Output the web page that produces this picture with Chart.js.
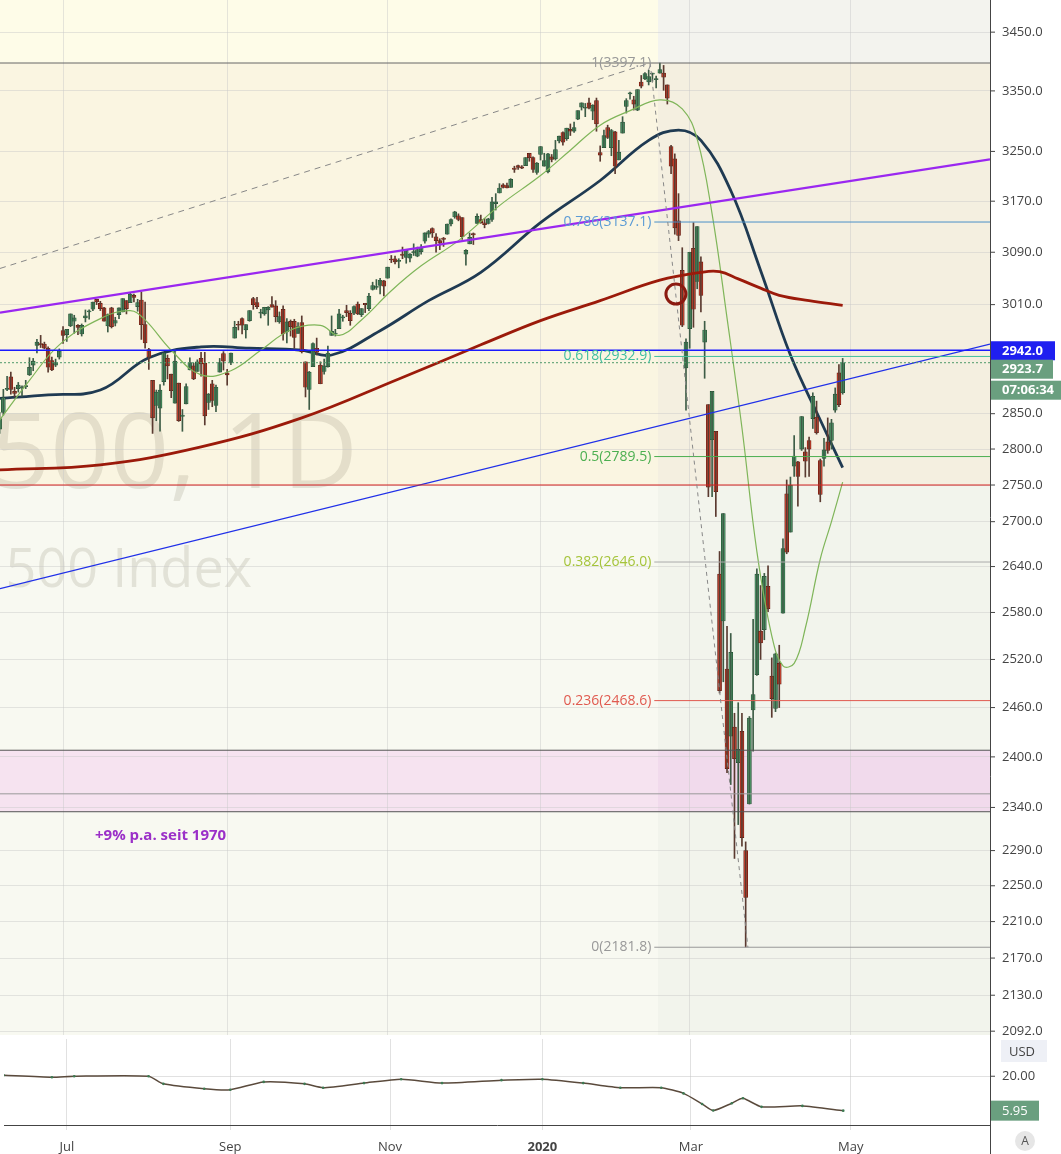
<!DOCTYPE html>
<html>
<head>
<meta charset="utf-8">
<script src="https://cdn.jsdelivr.net/npm/chart.js@4.4.1/dist/chart.umd.min.js"></script>
<style>
  html, body { margin: 0; padding: 0; background: #fff; }
  #wrap { position: relative; width: 1061px; height: 1154px; overflow: hidden; font-family: 'Open Sans', sans-serif; }
  #main { position: absolute; left: 0; top: 0; }
  #sub { position: absolute; left: 0; top: 1035px; }
</style>
</head>
<body>
<div id="wrap">
  <canvas id="main" width="1061" height="1035"></canvas>
  <canvas id="sub" width="1061" height="119"></canvas>
</div>
<script>
// daily bars, index 0 = 1 Jul 2019, first bar = 6 Jun 2019  [open, high, low, close]
const firstIndex = -17;
const bars = [
[2828,2852,2822,2843],[2852,2885,2848,2873],[2885,2904,2883,2886],[2903,2910,2878,2885],[2882,2888,2874,2879],
[2886,2895,2881,2891],[2887,2890,2875,2887],[2889,2898,2886,2889],[2906,2931,2905,2917],[2920,2930,2912,2926],
[2949,2958,2938,2954],[2952,2964,2946,2950],[2951,2954,2944,2945],[2945,2947,2910,2917],[2927,2932,2912,2913],
[2920,2929,2918,2924],[2932,2944,2929,2941],
// Jul
[2971,2977,2952,2964],[2965,2973,2955,2973],[2978,2996,2977,2996],[2985,2994,2967,2990],[2979,2980,2965,2976],
[2966,2981,2963,2979],[2990,3002,2984,2993],[2999,3002,2988,3000],[3003,3014,3001,3014],[3018,3018,3010,3014],
[3012,3015,3001,3004],[3005,3006,2985,2985],[2978,2996,2969,2995],[3005,3006,2975,2977],[2982,2991,2978,2986],
[2995,3005,2989,3005],[2999,3019,2999,3019],[3016,3016,2996,3004],[3013,3028,3013,3026],[3024,3026,3014,3021],
[3007,3018,3000,3013],[3017,3029,2958,2980],
// Aug
[2980,3014,2945,2953],[2943,2945,2914,2932],[2898,2898,2822,2844],[2862,2884,2840,2881],[2858,2892,2825,2884],
[2896,2938,2891,2938],[2930,2935,2900,2919],[2907,2907,2873,2883],[2865,2943,2865,2926],[2894,2894,2839,2840],
[2846,2856,2825,2848],[2864,2893,2864,2889],[2913,2931,2913,2924],[2919,2923,2899,2900],[2911,2928,2911,2925],
[2930,2939,2904,2922],[2923,2939,2834,2847],[2866,2879,2856,2878],[2893,2898,2860,2869],[2862,2891,2853,2888],
[2910,2930,2910,2924],[2937,2940,2913,2926],
// Sep
[2909,2914,2891,2906],[2924,2938,2921,2938],[2960,2985,2960,2976],[2980,2985,2972,2979],[2989,2990,2966,2979],
[2972,2980,2960,2980],[2986,3001,2985,3001],[3019,3021,3003,3010],[3013,3021,3004,3007],[2997,3003,2990,2998],
[2996,3006,2994,3006],[3002,3007,2979,3006],[3010,3022,3006,3006],[3008,3016,2984,2992],[2984,2999,2982,2992],
[3003,3008,2957,2966],[2969,2989,2953,2984],[2985,2987,2963,2977],[2985,2988,2945,2961],[2967,2983,2967,2977],
// Oct
[2983,2993,2938,2940],[2925,2925,2874,2888],[2885,2911,2856,2910],[2918,2953,2918,2952],[2945,2960,2935,2939],
[2920,2925,2893,2893],[2911,2929,2907,2919],[2918,2948,2917,2938],[2964,2993,2964,2970],[2966,2973,2963,2966],
[2974,3003,2974,2996],[2990,2994,2985,2990],[3001,3009,2992,2998],[2997,3001,2979,2986],[2997,3008,2995,3007],
[3011,3014,2995,2996],[2995,3004,2992,3004],[3012,3012,2998,3010],[3004,3027,3001,3023],[3033,3044,3032,3039],
[3036,3048,3033,3037],[3039,3050,3026,3047],[3046,3047,3023,3038],
// Nov
[3050,3067,3050,3067],[3079,3085,3074,3078],[3080,3084,3072,3075],[3076,3080,3066,3077],[3087,3098,3080,3085],
[3082,3094,3073,3093],[3081,3088,3075,3087],[3089,3103,3085,3091],[3084,3098,3083,3094],[3091,3102,3087,3097],
[3107,3120,3104,3120],[3118,3124,3113,3122],[3127,3128,3113,3120],[3114,3119,3090,3108],[3108,3111,3094,3104],
[3112,3113,3099,3110],[3118,3134,3118,3134],[3134,3142,3131,3141],[3145,3154,3143,3153],[3147,3150,3139,3141],
// Dec
[3144,3144,3110,3114],[3087,3094,3070,3093],[3103,3120,3103,3113],[3119,3120,3102,3117],[3135,3150,3135,3146],
[3141,3148,3135,3136],[3136,3143,3128,3133],[3135,3143,3134,3142],[3141,3176,3138,3169],[3166,3182,3156,3169],
[3183,3198,3183,3191],[3196,3198,3191,3192],[3195,3199,3191,3191],[3192,3206,3192,3205],[3223,3226,3216,3221],
[3227,3228,3221,3224],[3225,3227,3222,3223],[3227,3240,3227,3240],[3247,3247,3234,3240],[3240,3241,3216,3221],
[3216,3232,3213,3231],
// Jan 2020
[3245,3258,3236,3258],[3226,3247,3226,3235],[3217,3247,3215,3246],[3241,3245,3233,3237],[3238,3268,3236,3253],
[3267,3275,3264,3275],[3281,3282,3260,3265],[3271,3288,3268,3288],[3286,3295,3276,3283],[3283,3298,3281,3289],
[3303,3317,3302,3317],[3323,3330,3318,3330],[3321,3329,3307,3321],[3330,3338,3320,3321],[3316,3327,3302,3326],
[3334,3338,3283,3295],[3248,3259,3234,3244],[3256,3285,3256,3276],[3289,3293,3271,3273],[3256,3286,3243,3284],
[3282,3283,3214,3226],
// Feb
[3236,3268,3236,3249],[3280,3307,3280,3298],[3324,3337,3313,3334],[3345,3348,3336,3345],[3335,3341,3318,3328],
[3318,3352,3317,3352],[3365,3376,3355,3358],[3370,3381,3369,3379],[3365,3385,3360,3374],[3378,3380,3366,3380],
[3369,3375,3355,3370],[3380,3397,3380,3386],[3380,3393,3351,3373],[3360,3360,3328,3338],[3258,3260,3214,3226],
[3238,3246,3118,3128],[3139,3182,3108,3116],[3062,3097,2977,2979],[2916,2959,2855,2954],
// Mar
[2974,3090,2945,3090],[3096,3136,2976,3003],[3045,3130,3034,3130],[3075,3083,2999,3024],[2954,2985,2901,2972],
[2863,2863,2734,2747],[2813,2882,2734,2882],[2825,2825,2707,2741],[2630,2660,2478,2481],[2569,2711,2492,2711],
[2508,2562,2381,2386],[2425,2553,2367,2529],[2436,2453,2281,2398],[2393,2466,2320,2409],[2431,2453,2295,2305],
[2290,2300,2182,2237],[2344,2449,2344,2447],[2457,2571,2407,2476],[2501,2637,2500,2630],[2556,2615,2520,2541],
[2558,2631,2545,2627],[2614,2641,2581,2585],
// Apr
[2499,2522,2448,2471],[2459,2528,2455,2527],[2515,2538,2460,2489],[2579,2677,2579,2664],[2738,2757,2657,2659],
[2686,2761,2686,2750],[2776,2819,2762,2790],[2782,2783,2721,2762],[2800,2846,2798,2846],[2796,2802,2761,2783],
[2812,2817,2762,2800],[2843,2880,2829,2875],[2845,2868,2821,2823],[2784,2786,2727,2737],[2787,2815,2776,2799],
[2810,2844,2794,2798],[2812,2842,2800,2837],[2855,2887,2852,2878],[2909,2921,2860,2863],[2880,2930,2878,2923.7]
];

// moving averages [bar index, value]
const ma20 = [[-17,2841],[-9,2898],[-1,2950],[10,2989],[18,3001],[22,2987],[29,2942],[37,2906],[45,2912],[53,2942],
  [61,2972],[69,2979],[74,2964],[80,2987],[88,3031],[96,3069],[106,3108],[117,3163],[128,3211],[136,3252],[144,3293],
  [152,3317],[160,3335],[166,3320],[170,3270],[174,3150],[178,2990],[182,2830],[186,2660],[190,2550],[193,2512],
  [196,2515],[199,2560],[203,2650],[206,2700],[209,2754]];
const ma50 = [[-17,2872],[-4,2877],[10,2884],[23,2931],[37,2947],[50,2945],[64,2942],[72,2935],[85,2971],[98,3016],
  [112,3059],[128,3136],[144,3203],[157,3268],[165,3285],[171,3268],[179,3187],[187,3062],[195,2935],[203,2841],[209,2774]];
const ma200 = [[-17,2771],[10,2778],[37,2803],[64,2844],[90,2900],[112,2950],[128,2986],[144,3016],[160,3047],
  [171,3059],[176,3060],[181,3049],[187,3035],[192,3024],[200,3016],[209,3009]];

// drawings
const channelTop = [[-16.9,2998],[248.5,3237]];
const channelLow = [[-16.9,2611],[248.5,2951]];
const dashedUp = [[-16.9,3065],[157.4,3397.1]];
const fibDiag = [[157.4,3397.1],[183.6,2181.8]];
const fibStart = 158.5;
const fibLevels = [
  { label: '1(3397.1)', value: 3397.1, color: '#999999', line: '#666666', full: true },
  { label: '0.786(3137.1)', value: 3137.1, color: '#5b9bd5', line: '#4a90c8' },
  { label: '0.618(2932.9)', value: 2932.9, color: '#3fbf9f', line: '#3fbf9f' },
  { label: '0.5(2789.5)', value: 2789.5, color: '#4caf50', line: '#4caf50' },
  { label: '0.382(2646.0)', value: 2646.0, color: '#a5c43a', line: '#aaaaaa' },
  { label: '0.236(2468.6)', value: 2468.6, color: '#e05a4f', line: '#e05a4f' },
  { label: '0(2181.8)', value: 2181.8, color: '#999999', line: '#999999' }
];
const supportLine = 2942.0;
const redLine = 2750;
const lastPrice = 2923.7;
const zoneTop = 2408, zoneMid = 2356, zoneBottom = 2335;

const priceTicks = [2092,2130,2170,2210,2250,2290,2340,2400,2460,2520,2580,2640,2700,2750,2800,2850,3010,3090,3170,3250,3350,3450];
const monthTicks = [0,44,87,128,168,211];
const monthLabels = ['Jul','Sep','Nov','2020','Mar','May'];

// lower panel
const subSeries = [[-17,20.4],[-4,19.6],[2,20.0],[22,20.0],[26,16.9],[37,14.9],[44,14.5],[53,17.7],[64,16.9],
  [69,15.3],[80,17.2],[90,18.8],[101,17.2],[117,18.4],[128,18.8],[139,17.2],[149,15.3],[160,15.3],[166,13.0],
  [171,8.7],[174,6.0],[179,9.0],[182,11.0],[187,7.5],[198,7.9],[209,5.95]];

const X_MIN = -16.9, X_MAX = 248.5;
const up = b => b[3] >= b[0];

const wickData = bars.map((b, i) => ({ x: firstIndex + i, y: [b[2], b[1]] }));
const bodyData = bars.map((b, i) => ({ x: firstIndex + i, y: [b[0], b[3]] }));
const pts = arr => arr.map(p => ({ x: p[0], y: p[1] }));
const hline = (v, x0) => [[x0, v], [X_MAX, v]];

const lineDs = (data, color, width, extra = {}) => Object.assign({
  type: 'line', data: pts(data), borderColor: color, borderWidth: width, pointRadius: 0, tension: 0, fill: false
}, extra);

const bgPlugin = {
  id: 'bg',
  beforeDraw(chart) {
    const { ctx, chartArea: a, scales: { x, y } } = chart;
    const xs = x.getPixelForValue(159.5);
    const y1 = y.getPixelForValue(3397.1), y2 = y.getPixelForValue(redLine);
    ctx.save();
    const rect = (l, t, r, b, c) => { ctx.fillStyle = c; ctx.fillRect(l, t, r - l, b - t); };
    rect(a.left, a.top, xs, y1, '#fefce8');
    rect(a.left, y1, xs, y2, '#faf5e1');
    rect(a.left, y2, xs, a.bottom, '#f8f9f1');
    rect(xs, a.top, a.right, y1, '#f3f3ee');
    rect(xs, y1, a.right, y2, '#f4efe0');
    rect(xs, y2, a.right, a.bottom, '#f2f4ec');
    const zt = y.getPixelForValue(zoneTop), zb = y.getPixelForValue(zoneBottom);
    rect(a.left, zt, xs, zb, '#f6e3f0');
    rect(xs, zt, a.right, zb, '#f1daec');
    // watermark
    ctx.fillStyle = 'rgba(120,112,90,0.17)';
    ctx.textAlign = 'right';
    ctx.textBaseline = 'alphabetic';
    ctx.font = '104px "Open Sans", sans-serif';
    ctx.fillText('SPX500, 1D', 358, 488);
    ctx.font = '54px "Open Sans", sans-serif';
    ctx.fillText('S&P 500 Index', 252, 587);
    ctx.restore();
  },
  afterDraw(chart) {
    const { ctx, chartArea: a, scales: { x, y } } = chart;
    ctx.save();
    // fib labels
    ctx.font = '14px "Open Sans", sans-serif';
    ctx.textAlign = 'right';
    ctx.textBaseline = 'middle';
    const lx = x.getPixelForValue(fibStart) - 3;
    fibLevels.forEach(f => { ctx.fillStyle = f.color; ctx.fillText(f.label, lx, y.getPixelForValue(f.value)); });
    // circle
    ctx.strokeStyle = '#8b1a10'; ctx.lineWidth = 3;
    ctx.beginPath(); ctx.arc(x.getPixelForValue(164.3), y.getPixelForValue(3026), 10, 0, Math.PI * 2); ctx.stroke();
    // note
    ctx.fillStyle = '#9b30c8'; ctx.textAlign = 'left';
    ctx.font = 'bold 15px "Open Sans", sans-serif';
    ctx.fillText('+9% p.a. seit 1970', 95, 836);
    // axis
    ctx.fillStyle = '#ffffff'; ctx.fillRect(a.right + 1, 0, chart.width - a.right, chart.height);
    ctx.strokeStyle = '#444'; ctx.lineWidth = 1;
    ctx.beginPath(); ctx.moveTo(a.right + 0.5, 0); ctx.lineTo(a.right + 0.5, chart.height); ctx.stroke();
    ctx.beginPath(); ctx.moveTo(0, a.bottom + 1); ctx.lineTo(chart.width, a.bottom + 1); ctx.stroke();
    ctx.font = '13px "Open Sans", sans-serif'; ctx.textAlign = 'left'; ctx.fillStyle = '#444';
    priceTicks.forEach(v => {
      const py = y.getPixelForValue(v);
      ctx.beginPath(); ctx.moveTo(a.right, py); ctx.lineTo(a.right + 5, py); ctx.stroke();
      ctx.fillText(v.toFixed(1), a.right + 12, py);
    });
    const badge = (txt, v, bg, w, dy = 0) => {
      const py = y.getPixelForValue(v) + dy;
      ctx.fillStyle = bg; ctx.fillRect(a.right + 1, py - 9, w, 19);
      ctx.fillStyle = '#fff'; ctx.font = 'bold 13px "Open Sans", sans-serif';
      ctx.fillText(txt, a.right + 12, py + 1);
    };
    badge(supportLine.toFixed(1), supportLine, '#1f1ff0', 64);
    badge(lastPrice.toFixed(1), lastPrice, '#6a9f7f', 62, 6);
    badge('07:06:34', lastPrice, '#6a9f7f', 70, 27);
    ctx.restore();
  }
};

new Chart(document.getElementById('main'), {
  type: 'bar',
  data: {
    datasets: [
      lineDs(dashedUp, '#888', 1, { borderDash: [6, 5] }),
      lineDs(fibDiag, '#888', 1, { borderDash: [4, 4] }),
      ...fibLevels.map(f => lineDs(hline(f.value, f.full ? X_MIN : fibStart), f.line, 1)),
      lineDs(hline(zoneTop, X_MIN), '#555', 1),
      lineDs(hline(zoneMid, X_MIN), '#999', 1),
      lineDs(hline(zoneBottom, X_MIN), '#555', 1),
      lineDs(hline(redLine, X_MIN), '#d32020', 1),
      lineDs(hline(supportLine, X_MIN), '#1a1aff', 1.3),
      lineDs(hline(lastPrice, X_MIN), '#4e9a6a', 1, { borderDash: [2, 2] }),
      lineDs(channelTop, '#9a27f0', 2.2),
      lineDs(channelLow, '#2030e8', 1.3),
      lineDs(ma200, '#9b1a0a', 2.8, { tension: 0.4 }),
      lineDs(ma20, '#7fb559', 1.2, { tension: 0.4 }),
      { type: 'bar', data: wickData, grouped: false, barThickness: 1,
        backgroundColor: ctx => up(bars[ctx.dataIndex]) ? '#3d5c46' : '#5a3a30' },
      { type: 'bar', data: bodyData, grouped: false, barThickness: 4, borderSkipped: false, borderWidth: 0.7,
        minBarLength: 1,
        backgroundColor: ctx => up(bars[ctx.dataIndex]) ? '#4f9a6a' : '#d0432f',
        borderColor: ctx => up(bars[ctx.dataIndex]) ? '#1f4a2e' : '#5c140a' },
      lineDs(ma50, '#1f3a52', 2.8, { tension: 0.4 })
    ]
  },
  options: {
    responsive: false, animation: false, devicePixelRatio: 1,
    layout: { padding: 0 },
    plugins: { legend: { display: false }, tooltip: { enabled: false } },
    scales: {
      x: { type: 'linear', min: X_MIN, max: X_MAX, offset: false,
        afterBuildTicks: s => { s.ticks = monthTicks.map(v => ({ value: v })); },
        afterFit: s => { s.height = 0; },
        ticks: { display: false }, border: { display: false },
        grid: { offset: false, color: 'rgba(200,200,200,0.45)', drawTicks: false } },
      y: { type: 'logarithmic', position: 'right', min: 2088, max: 3506,
        afterBuildTicks: s => { s.ticks = priceTicks.map(v => ({ value: v })); },
        afterFit: s => { s.width = 71; },
        ticks: { display: false }, border: { display: false },
        grid: { color: 'rgba(200,200,200,0.45)', drawTicks: false } }
    }
  },
  plugins: [bgPlugin]
});

const subPlugin = {
  id: 'sub',
  afterDraw(chart) {
    const { ctx, chartArea: a, scales: { y } } = chart;
    ctx.save();
    ctx.strokeStyle = '#444'; ctx.lineWidth = 1;
    ctx.beginPath(); ctx.moveTo(a.right + 0.5, 0); ctx.lineTo(a.right + 0.5, chart.height); ctx.stroke();
    ctx.font = '13px "Open Sans", sans-serif'; ctx.textBaseline = 'middle'; ctx.fillStyle = '#444';
    const py = y.getPixelForValue(20);
    ctx.beginPath(); ctx.moveTo(a.right, py); ctx.lineTo(a.right + 5, py); ctx.stroke();
    ctx.fillText('20.00', a.right + 12, py);
    ctx.fillStyle = '#eef0f6'; ctx.fillRect(a.right + 11, 5, 46, 22);
    ctx.fillStyle = '#444'; ctx.fillText('USD', a.right + 19, 17);
    const ly = y.getPixelForValue(5.95);
    ctx.fillStyle = '#6a9f7f'; ctx.fillRect(a.right + 1, ly - 10, 48, 20);
    ctx.fillStyle = '#fff'; ctx.fillText('5.95', a.right + 12, ly + 1);
    ctx.fillStyle = '#e6e6e6';
    ctx.beginPath(); ctx.arc(a.right + 35, 106, 10, 0, Math.PI * 2); ctx.fill();
    ctx.fillStyle = '#555'; ctx.font = '12px "Open Sans", sans-serif'; ctx.textAlign = 'center';
    ctx.fillText('A', a.right + 35, 107);
    ctx.restore();
  }
};

new Chart(document.getElementById('sub'), {
  type: 'line',
  data: {
    datasets: [{ data: pts(subSeries), borderColor: '#5a4a3c', borderWidth: 1.5, pointRadius: 1.3,
      pointBackgroundColor: '#3d7a52', pointBorderWidth: 0, tension: 0.2 }]
  },
  options: {
    responsive: false, animation: false, devicePixelRatio: 1,
    layout: { padding: 0 },
    plugins: { legend: { display: false }, tooltip: { enabled: false } },
    scales: {
      x: { type: 'linear', min: X_MIN, max: X_MAX, offset: false,
        afterBuildTicks: s => { s.ticks = monthTicks.map(v => ({ value: v })); },
        afterFit: s => { s.height = 29; },
        ticks: { color: '#444', padding: 9, maxRotation: 0, autoSkip: false,
          font: ctx => ({ family: "'Open Sans', sans-serif", size: 13, weight: ctx.tick && ctx.tick.value === 128 ? 'bold' : 'normal' }),
          callback: v => monthLabels[monthTicks.indexOf(v)] },
        border: { color: '#444' },
        grid: { color: 'rgba(200,200,200,0.55)', tickLength: 5 } },
      y: { type: 'linear', position: 'right', min: 0.1, max: 35.2,
        afterBuildTicks: s => { s.ticks = [{ value: 20 }]; },
        afterFit: s => { s.width = 71; },
        ticks: { display: false }, border: { display: false },
        grid: { color: 'rgba(200,200,200,0.55)', drawTicks: false } }
    }
  },
  plugins: [subPlugin]
});
</script>
</body>
</html>
